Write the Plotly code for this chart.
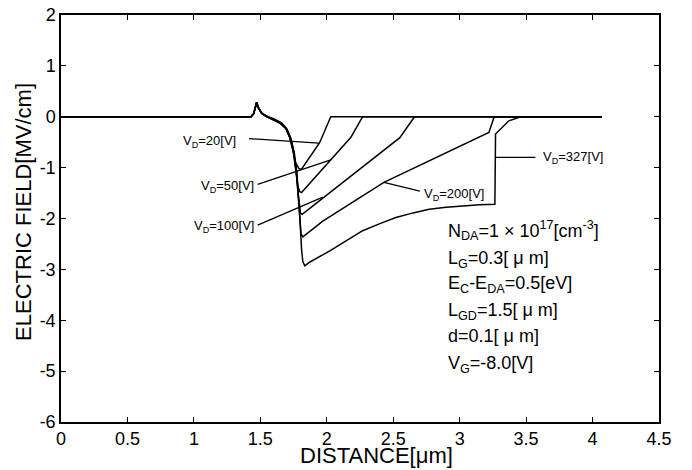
import plotly.graph_objects as go

# ---- data ----
pre_x = [0.0, 1.43, 1.45, 1.462, 1.472, 1.485, 1.51, 1.545]
pre_y = [0.0, 0.0, 0.06, 0.17, 0.28, 0.18, 0.07, 0.01]

vd20_x = [1.59, 1.645, 1.69, 1.72, 1.745, 1.765, 1.79, 1.81, 1.946, 2.03, 4.07]
vd20_y = [-0.05, -0.12, -0.22, -0.40, -0.66, -0.90, -1.02, -1.03, -0.51, 0.0, 0.0]

vd50_x = [1.592, 1.65, 1.693, 1.723, 1.748, 1.768, 1.782, 1.795, 1.81, 2.18, 2.27, 4.07]
vd50_y = [-0.05, -0.12, -0.23, -0.41, -0.68, -1.05, -1.35, -1.47, -1.49, -0.41, 0.0, 0.0]

vd100_x = [1.594, 1.652, 1.695, 1.725, 1.75, 1.77, 1.784, 1.795, 1.802, 1.815, 2.55, 2.66, 4.07]
vd100_y = [-0.05, -0.13, -0.24, -0.42, -0.69, -1.08, -1.5, -1.8, -1.9, -1.92, -0.41, 0.0, 0.0]

vd200_x = [1.596, 1.655, 1.697, 1.727, 1.752, 1.772, 1.786, 1.797, 1.806, 1.82, 1.97, 2.43, 2.77, 3.22, 3.26, 4.07]
vd200_y = [-0.05, -0.13, -0.24, -0.42, -0.70, -1.10, -1.58, -2.05, -2.30, -2.36, -2.05, -1.29, -0.87, -0.31, 0.0, 0.0]

vd327_x = [1.60, 1.66, 1.70, 1.73, 1.755, 1.775, 1.79, 1.80, 1.81, 1.82, 1.835, 1.87, 2.02, 2.15,
           2.27, 2.40, 2.52, 2.65, 2.77, 2.90, 3.02, 3.15, 3.265, 3.27, 3.37, 3.46, 4.07]
vd327_y = [-0.04, -0.12, -0.24, -0.42, -0.70, -1.10, -1.60, -2.10, -2.60, -2.85, -2.93, -2.86, -2.64, -2.43,
           -2.24, -2.10, -1.98, -1.89, -1.82, -1.78, -1.75, -1.73, -1.72, -0.34, -0.08, 0.0, 0.0]

curve_xs = [vd20_x, vd50_x, vd100_x, vd200_x, vd327_x]
curve_ys = [vd20_y, vd50_y, vd100_y, vd200_y, vd327_y]

label_texts = ["V<sub>D</sub>=20[V]", "V<sub>D</sub>=50[V]", "V<sub>D</sub>=100[V]",
               "V<sub>D</sub>=200[V]", "V<sub>D</sub>=327[V]"]
label_x = [1.33, 1.47, 1.47, 2.72, 3.61]
label_y = [-0.49, -1.38, -2.16, -1.52, -0.80]
label_anchor = ["right", "right", "right", "left", "left"]
leader_x = [[1.415, 1.94], [1.48, 2.03], [1.48, 1.97], [2.70, 2.43], [3.27, 3.57]]
leader_y = [[-0.43, -0.52], [-1.33, -0.85], [-2.13, -1.58], [-1.46, -1.29], [-0.80, -0.80]]

info_lines = ["N<sub>DA</sub>=1 × 10<sup>17</sup>[cm<sup>-3</sup>]",
              "L<sub>G</sub>=0.3[ μ m]",
              "E<sub>C</sub>-E<sub>DA</sub>=0.5[eV]",
              "L<sub>GD</sub>=1.5[ μ m]",
              "d=0.1[ μ m]",
              "V<sub>G</sub>=-8.0[V]"]
info_x = 2.90
info_y = [-2.24, -2.80, -3.29, -3.82, -4.31, -4.87]

x_ticks = [0, 0.5, 1, 1.5, 2, 2.5, 3, 3.5, 4, 4.5]
y_ticks = [2, 1, 0, -1, -2, -3, -4, -5, -6]
x_title = "DISTANCE[μm]"
y_title = "ELECTRIC FIELD[MV/cm]"

FONT = "Liberation Sans, Arial, sans-serif"

fig = go.Figure()
for cx, cy in zip(curve_xs, curve_ys):
    fig.add_trace(go.Scatter(x=pre_x + cx, y=pre_y + cy, mode="lines",
                             line=dict(color="black", width=1.5), showlegend=False,
                             hoverinfo="skip"))
for lx, ly in zip(leader_x, leader_y):
    fig.add_trace(go.Scatter(x=lx, y=ly, mode="lines",
                             line=dict(color="black", width=1.3), showlegend=False,
                             hoverinfo="skip"))

for t, x, y, a in zip(label_texts, label_x, label_y, label_anchor):
    fig.add_annotation(x=x, y=y, text=t, showarrow=False, xanchor=a, yanchor="middle",
                       font=dict(size=13, color="black", family=FONT))
for t, y in zip(info_lines, info_y):
    fig.add_annotation(x=info_x, y=y, text=t, showarrow=False, xanchor="left", yanchor="middle",
                       font=dict(size=18, color="black", family=FONT))

# axis titles placed as paper annotations
fig.add_annotation(xref="paper", yref="paper", x=0.527, y=-0.082, text=x_title, showarrow=False,
                   xanchor="center", yanchor="middle",
                   font=dict(size=22, color="black", family=FONT))
fig.add_annotation(xref="paper", yref="paper", x=-0.062, y=0.516, text=y_title, showarrow=False,
                   textangle=-90, xanchor="center", yanchor="middle",
                   font=dict(size=22, color="black", family=FONT))

axis_common = dict(showgrid=False, zeroline=False, showline=True, linecolor="black", linewidth=1.5,
                   mirror="ticks", ticks="inside", ticklen=5, tickcolor="black", tickwidth=1,
                   automargin=False,
                   tickfont=dict(size=18, color="black", family=FONT))
fig.update_xaxes(range=[0, 4.5], tickvals=x_ticks, ticktext=[f"{v:g}" for v in x_ticks], **axis_common)
fig.update_yaxes(range=[-6, 2], tickvals=y_ticks, ticktext=[f"{v:g}" for v in y_ticks], **axis_common)
fig.update_layout(width=692, height=470, margin=dict(l=61, r=33, t=15, b=48, autoexpand=False),
                  plot_bgcolor="white", paper_bgcolor="white", font=dict(family=FONT, color="black"))
fig.write_html("out.html", config={"displayModeBar": False},
               post_script="document.body.style.margin='0';")
